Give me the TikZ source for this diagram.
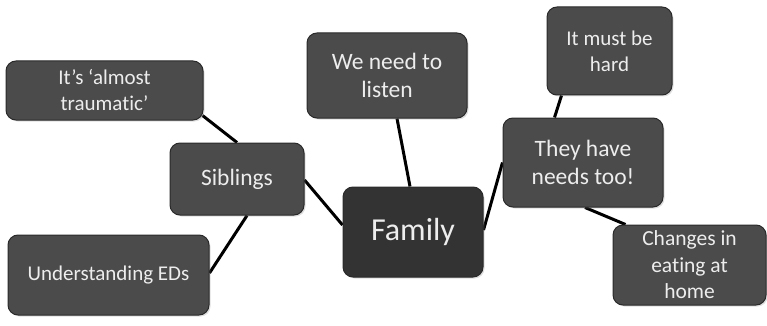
\documentclass[tikz,border=0pt]{standalone}
\usepackage{fontspec}
\setmainfont{Carlito}[Ligatures={NoCommon}]
\usetikzlibrary{calc,backgrounds,shadows}
\definecolor{boxfill}{HTML}{4B4B4B}
\definecolor{famfill}{HTML}{333333}
\definecolor{boxline}{HTML}{2A2A2A}
\definecolor{txt}{HTML}{EDEDED}
\tikzset{
  mapbox/.style={draw=boxline, line width=1pt, fill=boxfill, rounded corners=10pt,
    text=txt, align=center, inner sep=0pt,
    drop shadow={opacity=0.25, shadow xshift=1.5pt, shadow yshift=-1.5pt}},
  smalltext/.style={font=\fontsize{21}{26}\selectfont},
  midtext/.style={font=\fontsize{23.5}{28.5}\selectfont},
  link/.style={line width=3pt, draw=black}
}
\begin{document}
\begin{tikzpicture}[x=1pt,y=-1pt]
\useasboundingbox (0,0) rectangle (767,326);
\node[mapbox, smalltext, minimum width=197pt, minimum height=59pt] (trauma) at (104.5,90.5) {It’s ‘almost\\traumatic’};
\node[mapbox, midtext, minimum width=134pt, minimum height=72pt] (siblings) at (237,179) {Siblings};
\node[mapbox, smalltext, minimum width=201pt, minimum height=80pt] (eds) at (108.5,275) {Understanding EDs};
\node[mapbox, midtext, minimum width=160pt, minimum height=85pt] (listen) at (387,75.5) {We need to\\listen};
\node[mapbox, fill=famfill, font=\fontsize{32}{38}\selectfont, minimum width=140pt, minimum height=90pt] (family) at (413,232) {Family};
\node[mapbox, smalltext, minimum width=125pt, minimum height=88pt] (hard) at (609.5,51) {It must be\\hard};
\node[mapbox, midtext, minimum width=160pt, minimum height=89pt] (needs) at (583,162.5) {They have\\needs too!};
\node[mapbox, font=\fontsize{21.5}{26.5}\selectfont, minimum width=153pt, minimum height=80pt] (changes) at (689.5,265) {Changes in\\eating at\\home};
\begin{scope}[on background layer]
\draw[link] ($(trauma.east)+(-1,25)$) -- (siblings.north);
\draw[link] ($(siblings.south)+(10,0)$) -- ($(eds.east)+(0,-2)$);
\draw[link] ($(siblings.east)+(0,1)$) -- ($(family.west)+(0,-7)$);
\draw[link] ($(listen.south)+(10,0)$) -- ($(family.north)+(-3,0)$);
\draw[link] ($(family.east)+(0,-2)$) -- (needs.west);
\draw[link] ($(hard.south west)+(15,0)$) -- ($(needs.north west)+(52,0)$);
\draw[link] ($(needs.south)+(2,0)$) -- ($(changes.north west)+(13,0)$);
\end{scope}
\end{tikzpicture}
\end{document}
